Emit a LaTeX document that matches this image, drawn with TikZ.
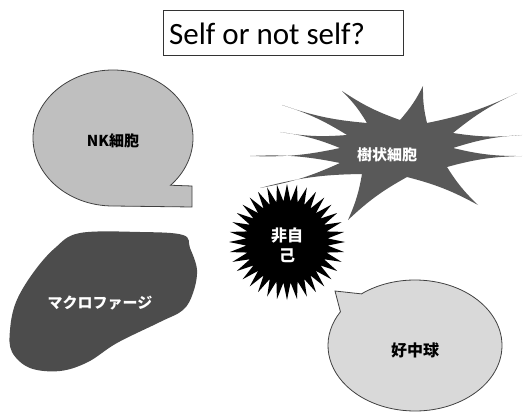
\documentclass[tikz,border=0pt]{standalone}
\usepackage{fontspec}
\setmainfont{Carlito}
\newfontfamily\jpfont{Noto Sans CJK JP}
\usetikzlibrary{shapes.geometric}
\begin{document}
\begin{tikzpicture}[x=1pt,y=-1pt,
  bubble/.style={draw=black!75,line width=0.8pt},
  spike/.style={bend right=7},
  celllabel/.style={font=\jpfont\bfseries\fontsize{15}{19}\selectfont,align=center,inner sep=0pt}]
\useasboundingbox (0,0) rectangle (523,412);

% title
\node[draw=black!80,line width=0.9pt,minimum width=240pt,minimum height=45pt,inner sep=0pt] (titlebox) at (283,32.5) {};
\node[anchor=west,font=\fontsize{31}{36}\selectfont,inner sep=0pt] (title) at (169,34) {Self or not self?};

% NK cell: speech bubble with a square tail
\draw[bubble,fill=black!25] (113,206) arc[start angle=90,end angle=404,x radius=80,y radius=68]
  -- (192,186) -- (192,207) -- cycle;
\node[celllabel] (nk) at (113,141) {NK細胞};

% dendritic cell: tapering arms with concave sides
\fill[black!65] (250,156) to[spike] (340,148) to[spike] (280,132) to[spike] (347,135)
  to[spike] (282,105) to[spike] (367,123) to[spike] (342,91) to[spike] (400,120)
  to[spike] (423,86) to[spike] (427,123) to[spike] (517,93) to[spike] (453,133)
  to[spike] (522,135) to[spike] (453,148) to[spike] (522,156) to[spike] (447,167)
  to[spike] (478,205) to[spike] (407,177) to[spike] (348,220) to[spike] (362,174)
  to[spike] (260,188) to[spike] (340,163) to[spike] cycle;
\node[celllabel,text=white] (dc) at (387,155) {樹状細胞};

% non-self
\node[star,star points=36,star point ratio=1.42,minimum size=116pt,inner sep=0pt,fill=black] (nonself) at (287,242) {};
\node[celllabel,text=white,font=\jpfont\bfseries\fontsize{16}{20}\selectfont] (nonselftext) at (287,245) {非自\\己};

% macrophage
\fill[black!70] plot[smooth cycle,tension=0.6] coordinates {
  (80,233) (140,232) (183,235) (190,248) (197,270) (193,293) (183,310)
  (160,322) (117,343) (88,362) (60,371) (30,368) (12,352) (10,330)
  (16,302) (33,273) (55,248)};
\node[celllabel,text=white] (mac) at (100,303) {マクロファージ};

% neutrophil: speech bubble with a pointed tail
\draw[bubble,fill=black!15] (415,345.5) ++(232:87 and 65.5) coordinate (tailstart)
  arc[start angle=232,end angle=571,x radius=87,y radius=65.5] -- (335,291) -- cycle;
\node[celllabel,font=\jpfont\bfseries\fontsize{16}{20}\selectfont] (neu) at (415,350) {好中球};
\end{tikzpicture}
\end{document}
